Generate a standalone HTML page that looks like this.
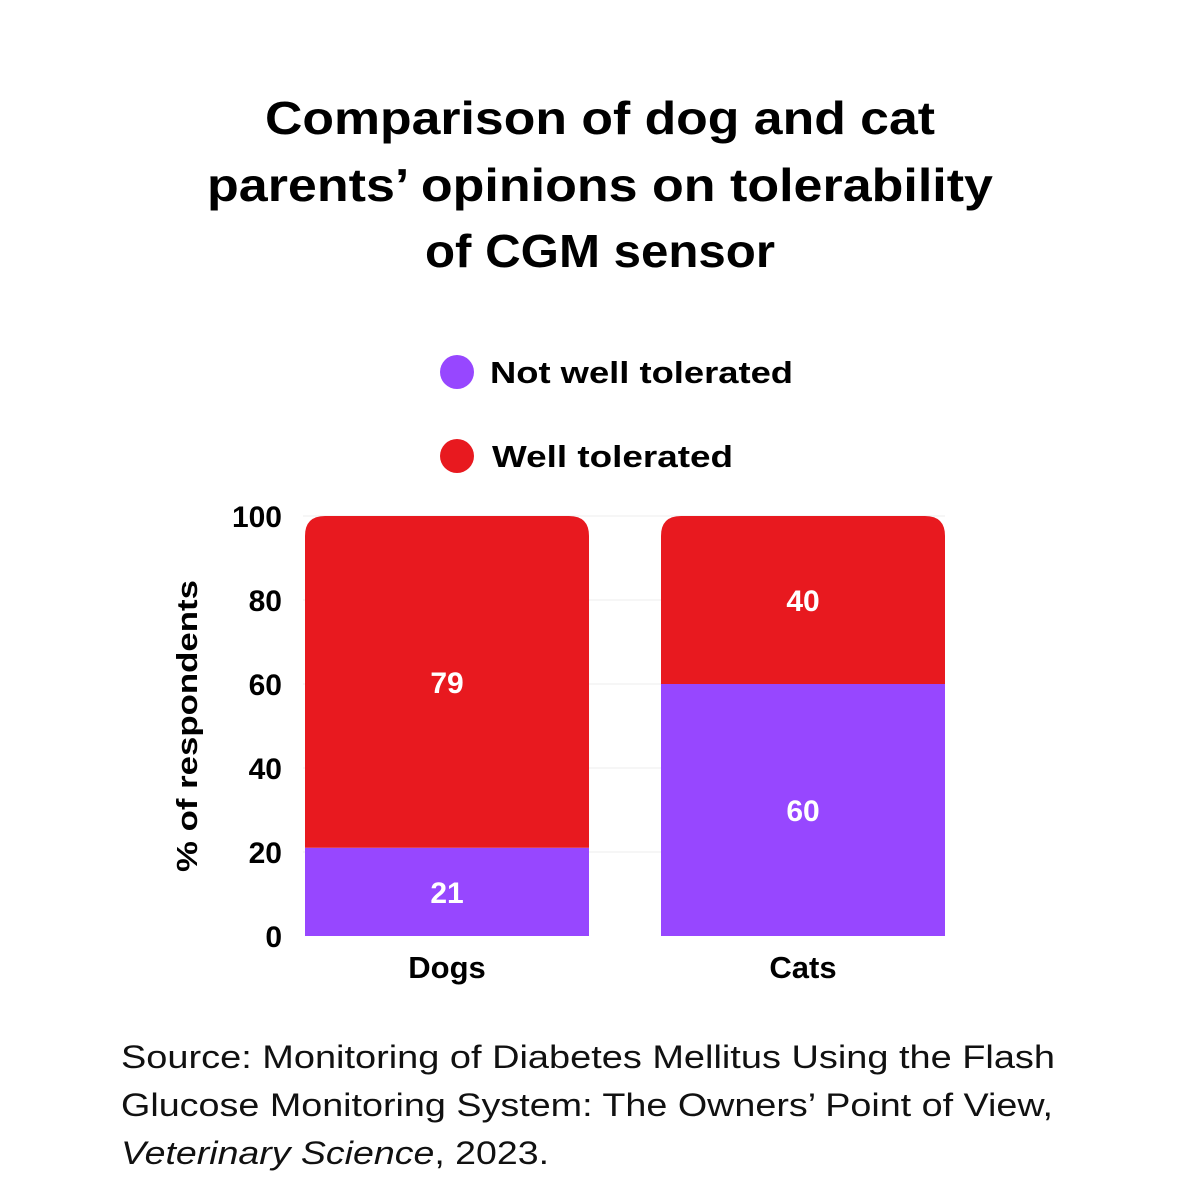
<!DOCTYPE html>
<html><head><meta charset="utf-8"><style>
body{margin:0;background:#fff}
svg{display:block;font-family:"Liberation Sans",sans-serif}
</style></head><body>
<svg id="chart" width="1200" height="1200" viewBox="0 0 1200 1200">
<rect width="1200" height="1200" fill="#fff"/>
<g font-weight="bold" font-size="46" text-anchor="middle" fill="#000">
<text x="600" y="134" textLength="670" lengthAdjust="spacingAndGlyphs">Comparison of dog and cat</text>
<text x="600" y="201" textLength="786" lengthAdjust="spacingAndGlyphs">parents’ opinions on tolerability</text>
<text x="600" y="267" textLength="350" lengthAdjust="spacingAndGlyphs">of CGM sensor</text>
</g>
<g font-weight="bold" font-size="31" fill="#000">
<g><circle cx="457" cy="372" r="17" fill="#9747FF"/><text x="490" y="383" textLength="303" lengthAdjust="spacingAndGlyphs">Not well tolerated</text></g>
<g><circle cx="457" cy="456" r="17" fill="#E8191F"/><text x="492" y="467" textLength="241" lengthAdjust="spacingAndGlyphs">Well tolerated</text></g>
</g>
<g id="grid"></g><g id="bars"></g><g id="axes"></g>
<text transform="translate(197,726) rotate(-90)" text-anchor="middle" font-weight="bold" font-size="29" textLength="292" lengthAdjust="spacingAndGlyphs">% of respondents</text>
<g font-size="32" fill="#111">
<text x="121" y="1068" textLength="934" lengthAdjust="spacingAndGlyphs">Source: Monitoring of Diabetes Mellitus Using the Flash</text>
<text x="121" y="1116" textLength="932" lengthAdjust="spacingAndGlyphs">Glucose Monitoring System: The Owners’ Point of View,</text>
<text x="121" y="1164" textLength="428" lengthAdjust="spacingAndGlyphs"><tspan font-style="italic">Veterinary Science</tspan>, 2023.</text>
</g>
</svg>
<script>
const categories=["Dogs","Cats"];
const notWell=[21,60];
const well=[79,40];
const yTicks=[0,20,40,60,80,100];
const NS="http://www.w3.org/2000/svg";
const y0=936,y100=516,xL=305,barW=284,gap=356;
const y=v=>y0-(v/100)*(y0-y100);
const xc=i=>xL+i*gap;
function mk(t,a,p){const e=document.createElementNS(NS,t);for(const k in a)e.setAttribute(k,a[k]);p.appendChild(e);return e;}
const grid=document.getElementById('grid'),bars=document.getElementById('bars'),axes=document.getElementById('axes');
yTicks.forEach(t=>{
 if(t>0){const l=mk('line',{x1:303,x2:945,y1:y(t),y2:y(t),stroke:'#ececec','stroke-width':1},grid);
 
 }
 const tx=mk('text',{x:282,y:y(t)+11,'text-anchor':'end','font-weight':'bold','font-size':30},axes);
 tx.textContent=t;
 
 
});
categories.forEach((c,i)=>{
 const x=xc(i),r=20;
 const yb=y(notWell[i]),yt=y(notWell[i]+well[i]);
 const p=mk('rect',{x:x,y:yb,width:barW,height:y0-yb,fill:'#9747FF'},bars);
 
 
 const d=`M${x},${yb} V${yt+r} Q${x},${yt} ${x+r},${yt} H${x+barW-r} Q${x+barW},${yt} ${x+barW},${yt+r} V${yb} Z`;
 const w=mk('path',{d:d,fill:'#E8191F'},bars);
 
 
 const l1=mk('text',{x:x+barW/2,y:(yb+y0)/2+11,'text-anchor':'middle','font-weight':'bold','font-size':30,fill:'#fff'},bars);
 l1.textContent=notWell[i];
 
 
 const l2=mk('text',{x:x+barW/2,y:(yb+yt)/2+11,'text-anchor':'middle','font-weight':'bold','font-size':30,fill:'#fff'},bars);
 l2.textContent=well[i];
 
 
 const cl=mk('text',{x:x+barW/2,y:978,'text-anchor':'middle','font-weight':'bold','font-size':31},axes);
 cl.textContent=c;
 
 
});
</script>
</body></html>
